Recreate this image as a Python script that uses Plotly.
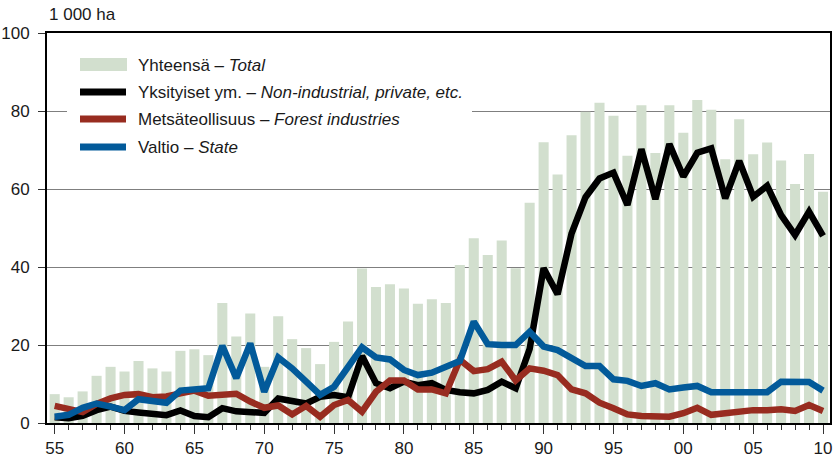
import plotly.graph_objects as go

years = list(range(1955, 2011))

total = [7.4, 6.6, 8.1, 12.1, 14.4, 13.2, 15.9, 14.0, 13.2, 18.5,
         18.9, 17.4, 30.8, 22.2, 28.1, 14.4, 27.4, 21.5, 19.2, 15.1,
         20.8, 26.0, 39.6, 34.9, 35.6, 34.5, 30.6, 31.7, 30.8, 40.5,
         47.4, 43.1, 46.8, 39.7, 56.5, 72.0, 63.7, 73.8, 79.8, 82.1,
         78.8, 68.5, 81.5, 69.2, 81.5, 74.4, 82.8, 80.3, 67.6, 77.9,
         68.9, 71.9, 67.3, 61.3, 69.0, 59.3]

private = [1.5, 1.2, 1.8, 3.3, 4.2, 3.1, 2.7, 2.3, 2.0, 3.2,
           1.8, 1.5, 3.8, 3.0, 2.9, 2.6, 6.3, 5.5, 5.0, 6.7,
           7.2, 6.6, 17.2, 10.2, 8.9, 10.6, 9.7, 10.2, 8.5, 7.9,
           7.6, 8.5, 10.6, 8.9, 19.0, 39.7, 33.0, 48.6, 57.9, 62.7,
           64.2, 55.9, 70.2, 57.4, 71.5, 63.2, 69.3, 70.4, 57.6, 67.2,
           58.0, 60.8, 53.3, 48.2, 54.2, 48.0]

forest = [4.4, 3.5, 2.8, 4.9, 6.3, 7.2, 7.4, 6.6, 6.8, 7.6,
          8.3, 7.0, 7.3, 7.5, 5.5, 3.9, 4.5, 2.2, 4.4, 1.6,
          4.6, 5.9, 2.9, 8.0, 10.9, 10.9, 8.6, 8.6, 7.6, 16.2,
          13.3, 13.8, 15.7, 10.9, 14.0, 13.4, 12.3, 8.6, 7.6, 5.2,
          3.8, 2.2, 1.8, 1.9, 1.6, 2.5, 3.9, 2.1, 2.5, 3.3,
          3.3, 3.3, 3.5, 3.1, 4.6, 3.1]

state = [1.6, 2.1, 3.9, 5.0, 4.2, 3.3, 6.1, 5.5, 5.2, 8.3,
         8.6, 8.9, 19.8, 11.5, 20.4, 8.0, 16.8, 14.0, 10.6, 7.2,
         9.3, 14.4, 19.4, 16.8, 16.3, 13.6, 12.3, 12.9, 14.6, 15.9,
         26.0, 20.2, 20.0, 20.0, 23.4, 19.6, 18.7, 16.6, 14.6, 14.6,
         11.2, 10.8, 9.5, 10.2, 8.6, 9.1, 9.5, 7.9, 7.9, 7.6,
         7.8, 7.9, 10.6, 10.5, 10.5, 8.3]

tick_years = [1955, 1960, 1965, 1970, 1975, 1980, 1985, 1990, 1995, 2000, 2005, 2010]
tick_labels = ["55", "60", "65", "70", "75", "80", "85", "90", "95", "00", "05", "10"]

legend_labels = ["Yhteensä – <i>Total</i>",
                 "Yksityiset ym. – <i>Non-industrial, private, etc.</i>",
                 "Metsäteollisuus – <i>Forest industries</i>",
                 "Valtio – <i>State</i>"]

BAR_C = "#d2dfce"
BLACK = "#000000"
RED = "#982c20"
BLUE = "#025a9a"
FONT = "Liberation Sans Narrow, Arial Narrow, Liberation Sans, Arial, sans-serif"
TXT = "#1a1a1a"
FS = 17

fig = go.Figure()
fig.add_trace(go.Bar(x=years, y=total, marker=dict(color=BAR_C, line=dict(width=0)),
                     name=legend_labels[0], showlegend=False))
for vals, col, nm in [(private, BLACK, legend_labels[1]),
                      (forest, RED, legend_labels[2]),
                      (state, BLUE, legend_labels[3])]:
    fig.add_trace(go.Scatter(x=years, y=vals, mode="lines", name=nm, showlegend=False,
                             line=dict(color=col, width=6.5)))

# custom legend (paper coordinates; pixels of plot area: x 47..830, y 33..423)
def px_x(p):
    return (p - 47) / 783.0

def px_y(p):
    return (423 - p) / 390.0

shapes = [
    dict(type="rect", xref="paper", yref="paper", layer="above",
         x0=px_x(67), x1=px_x(472), y0=px_y(165), y1=px_y(42),
         fillcolor="white", line=dict(width=0)),
    dict(type="rect", xref="paper", yref="paper", layer="above",
         x0=px_x(80), x1=px_x(127), y0=px_y(71), y1=px_y(58),
         fillcolor=BAR_C, line=dict(width=0)),
]
line_rows = [(92, BLACK), (119, RED), (147, BLUE)]
for yy, col in line_rows:
    shapes.append(dict(type="line", xref="paper", yref="paper", layer="above",
                       x0=px_x(80), x1=px_x(126), y0=px_y(yy), y1=px_y(yy),
                       line=dict(color=col, width=7)))

annotations = []
for lbl, yy in zip(legend_labels, [65, 92, 119, 147]):
    annotations.append(dict(text=lbl, xref="paper", yref="paper", x=px_x(136), y=px_y(yy),
                            xanchor="left", yanchor="middle", showarrow=False,
                            font=dict(family=FONT, size=FS, color=TXT)))
annotations.append(dict(text="1 000 ha", xref="paper", yref="paper", x=px_x(47), y=px_y(15),
                        xanchor="left", yanchor="middle", showarrow=False,
                        font=dict(family=FONT, size=FS, color=TXT)))

fig.update_layout(
    width=839, height=466,
    margin=dict(l=47, r=9, t=33, b=43, autoexpand=False),
    paper_bgcolor="white", plot_bgcolor="white",
    bargap=0.28,
    font=dict(family=FONT, size=FS, color=TXT),
    shapes=shapes, annotations=annotations,
    showlegend=False,
)
fig.update_xaxes(range=[1954.45, 2010.5], tickvals=tick_years, ticktext=tick_labels,
                 ticks="outside", ticklen=9, tickwidth=1.2, tickcolor="#333333",
                 minor=dict(dtick=1, tick0=1955, ticks="outside", ticklen=5, tickwidth=1.2,
                            tickcolor="#333333", showgrid=False),
                 showline=True, linecolor="black", linewidth=2, mirror=True,
                 showgrid=False, zeroline=False, automargin=False,
                 tickfont=dict(family=FONT, size=FS, color=TXT))
fig.update_yaxes(range=[0, 100], tickvals=[0, 20, 40, 60, 80, 100],
                 ticks="outside", ticklen=7, tickwidth=1.2, tickcolor="#333333",
                 showline=True, linecolor="black", linewidth=2, mirror=True,
                 showgrid=True, gridcolor="#7f7f7f", gridwidth=1.3, zeroline=False,
                 ticklabelstandoff=5, automargin=False,
                 tickfont=dict(family=FONT, size=FS, color=TXT))

# remove the default 8px page margin so the figure sits at the window's origin
fig.write_html("out.html", config={"displayModeBar": False},
               post_script="document.body.style.margin='0px';")
